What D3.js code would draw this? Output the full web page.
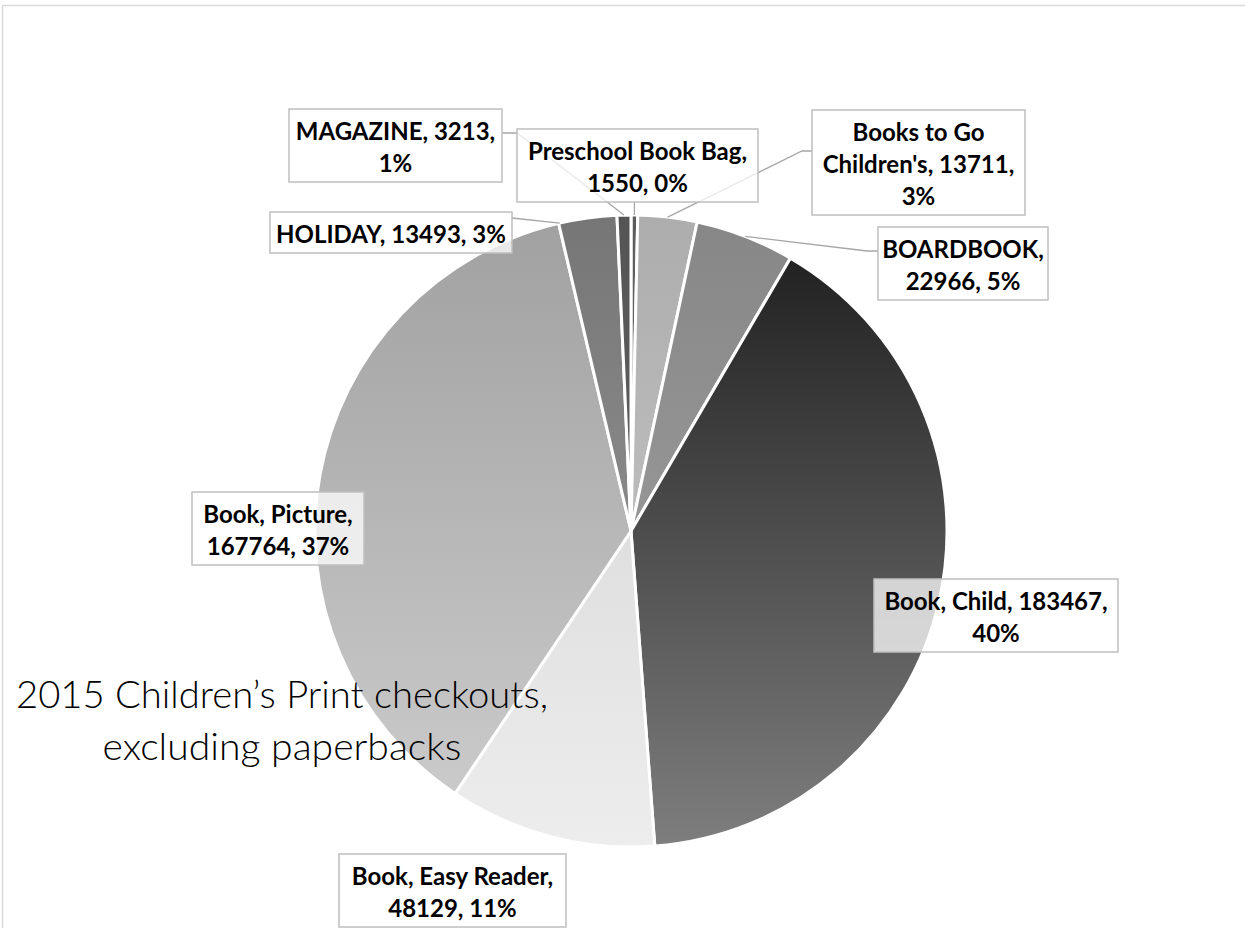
<!DOCTYPE html>
<html>
<head>
<meta charset="utf-8">
<script src="https://cdn.jsdelivr.net/npm/d3@7"></script>
<style>
  body { margin: 0; background: #fff; }
  svg { display: block; }
</style>
</head>
<body>
<div id="chart"></div>
<script>
// data
const categories = ["Preschool Book Bag", "Books to Go Children's", "BOARDBOOK", "Book, Child",
                    "Book, Easy Reader", "Book, Picture", "HOLIDAY", "MAGAZINE"];
const checkouts = [1550, 13711, 22966, 183467, 48129, 167764, 13493, 3213];
// how many words go on each line of a data label
const wordsPerLine = [[3, 2], [3, 2, 1], [1, 2], [3, 1], [3, 2], [2, 2], [3], [2, 1]];
const titleLines = ["2015 Children\u2019s Print checkouts,", "excluding paperbacks"];

// gradient top / bottom shade per slice
const shades = [
  ["#5c5c5c", "#6a6a6a"], ["#adadad", "#bdbdbd"], ["#878787", "#969696"], ["#222222", "#7e7e7e"],
  ["#dfdfdf", "#ededed"], ["#a1a1a1", "#cacaca"], ["#767676", "#8a8a8a"], ["#545454", "#606060"]
];

// label boxes: left, top, width, leader elbow and where on the slice the leader lands
const boxes = [
  {x: 517, y: 129, w: 241, down: true, frac: 0.5},
  {x: 812, y: 110, w: 213, elbow: [802, 151], frac: 0.5},
  {x: 878, y: 227, w: 170, elbow: [867, 251], frac: 0.5},
  {x: 874, y: 579, w: 244},
  {x: 339, y: 854, w: 227},
  {x: 192, y: 492, w: 172},
  {x: 270, y: 212, w: 242, elbow: [512, 218], frac: 0.02},
  {x: 289, y: 109, w: 213, elbow: [517, 133], frac: 0.5}
];

const width = 1245, height = 928;
const cx = 631, cy = 531, radius = 316;
const lineH = 32;

const data = categories.map((c, i) => ({cat: c, value: checkouts[i], i: i}));
const total = d3.sum(checkouts);
const pct = d3.format(".0%");

const svg = d3.select("#chart").append("svg")
    .attr("width", width)
    .attr("height", height);

// chart frame
svg.append("rect")
    .attr("x", 2.5).attr("y", 5.5)
    .attr("width", 1300).attr("height", 1000)
    .attr("fill", "none")
    .attr("stroke", "#d9d9d9")
    .attr("stroke-width", 1.5);

const defs = svg.append("defs");
shades.forEach((s, i) => {
  const g = defs.append("linearGradient")
      .attr("id", "grad" + i)
      .attr("x1", 0).attr("y1", 0).attr("x2", 0).attr("y2", 1);
  g.append("stop").attr("offset", "0%").attr("stop-color", s[0]);
  g.append("stop").attr("offset", "100%").attr("stop-color", s[1]);
});

const pie = d3.pie().sort(null).value(d => d.value);
const arcs = pie(data);
const arc = d3.arc().innerRadius(0).outerRadius(radius);

const pieG = svg.append("g").attr("transform", `translate(${cx},${cy})`);
pieG.selectAll("path")
  .data(arcs)
  .join("path")
    .attr("d", arc)
    .attr("fill", d => `url(#grad${d.data.i})`)
    .attr("stroke", "#fff")
    .attr("stroke-width", 3)
    .attr("stroke-linejoin", "round");

// title, centred; Lato runs wider than the original face so fit each line to its span
const titleX = 282;
const titleSpec = [{y: 708, w: 532}, {y: 760, w: 359}];
titleLines.forEach((t, i) => {
  svg.append("text")
      .attr("x", titleX)
      .attr("y", titleSpec[i].y)
      .attr("text-anchor", "middle")
      .attr("font-family", "Lato, 'Open Sans', sans-serif")
      .attr("font-weight", 300)
      .attr("font-size", 37)
      .attr("textLength", titleSpec[i].w)
      .attr("lengthAdjust", "spacingAndGlyphs")
      .attr("fill", "#000")
      .text(t);
});

// leader lines
const lineGen = d3.line();
arcs.forEach((d, i) => {
  const b = boxes[i];
  if (b.frac === undefined) return;
  const a = d.startAngle + b.frac * (d.endAngle - d.startAngle);
  const p = d3.pointRadial(a, radius);
  const start = [cx + p[0], cy + p[1]];
  const h = wordsPerLine[i].length * lineH + 9;
  let pts;
  if (b.down) {
    pts = [start, [start[0], b.y + h]];
  } else {
    const edgeX = b.elbow[0] < b.x ? b.x : b.x + b.w;
    pts = [start, b.elbow, [edgeX, b.elbow[1]]];
  }
  svg.append("path")
      .attr("d", lineGen(pts))
      .attr("fill", "none")
      .attr("stroke", "#a6a6a6")
      .attr("stroke-width", 1.3);
});

// data labels
arcs.forEach((d, i) => {
  const b = boxes[i];
  const words = `${d.data.cat}, ${d.data.value}, ${pct(d.data.value / total)}`.split(" ");
  const lines = [];
  let k = 0;
  wordsPerLine[i].forEach(n => { lines.push(words.slice(k, k + n).join(" ")); k += n; });
  const h = lines.length * lineH + 9;
  const g = svg.append("g");
  g.append("rect")
      .attr("x", b.x).attr("y", b.y)
      .attr("width", b.w).attr("height", h)
      .attr("fill", "#fff")
      .attr("fill-opacity", 0.75)
      .attr("stroke", "#bfbfbf")
      .attr("stroke-width", 1.5);
  lines.forEach((l, j) => {
    g.append("text")
        .attr("x", b.x + b.w / 2)
        .attr("y", b.y + 31 + j * lineH)
        .attr("text-anchor", "middle")
        .attr("font-family", "Lato, 'Open Sans', sans-serif")
        .attr("font-weight", 700)
        .attr("font-size", 24)
        .attr("fill", "#000")
        .text(l);
  });
});
</script>
</body>
</html>
